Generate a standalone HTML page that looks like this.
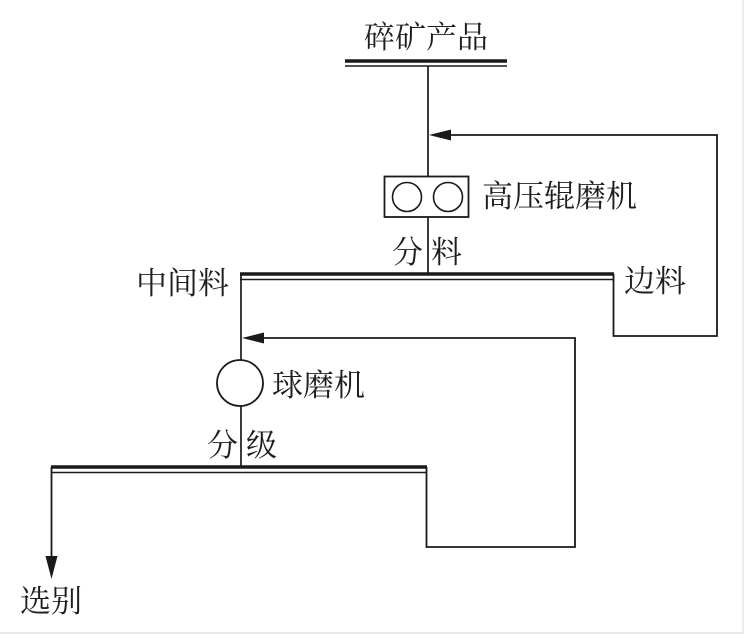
<!DOCTYPE html>
<html><head><meta charset="utf-8"><style>
html,body{margin:0;padding:0;background:#fff;}
svg{display:block;}
text{font-family:"Liberation Serif","Noto Serif CJK SC",serif;font-size:31px;fill:#1e1e1e;}
</style></head><body>
<svg width="744" height="634" viewBox="0 0 744 634" xmlns="http://www.w3.org/2000/svg">
<rect x="0" y="0" width="744" height="634" fill="#fff"/>
<line x1="0" y1="633" x2="744" y2="633" stroke="#e8e8e8" stroke-width="2"/>
<line x1="743" y1="0" x2="743" y2="634" stroke="#e8e8e8" stroke-width="1.5"/>
<g stroke="#1a1a1a" fill="none">
<!-- top double bar -->
<line x1="345" y1="61" x2="507" y2="61" stroke-width="3.5"/>
<line x1="345" y1="66" x2="507" y2="66" stroke-width="1.6"/>
<!-- vertical to HPGR -->
<line x1="428" y1="66" x2="428" y2="176" stroke-width="1.7"/>
<!-- HPGR box -->
<rect x="384.5" y="176.5" width="84" height="40.5" stroke-width="1.8"/>
<circle cx="407" cy="197" r="14.5" stroke-width="1.6"/>
<circle cx="448" cy="197" r="14.5" stroke-width="1.6"/>
<line x1="428" y1="217" x2="428" y2="274" stroke-width="1.7"/>
<!-- mid double bar -->
<line x1="240" y1="274" x2="614" y2="274" stroke-width="3.5"/>
<line x1="240" y1="279.5" x2="614" y2="279.5" stroke-width="1.6"/>
<!-- edge material loop -->
<polyline points="613.5,274 613.5,336 717,336 717,135 448,135" stroke-width="1.8"/>
<!-- middle to ball mill -->
<line x1="241" y1="274" x2="241" y2="360" stroke-width="1.7"/>
<circle cx="240" cy="383" r="23" stroke-width="1.8"/>
<line x1="241" y1="406" x2="241" y2="467" stroke-width="1.7"/>
<!-- bottom double bar -->
<line x1="51" y1="467" x2="427" y2="467" stroke-width="3.5"/>
<line x1="51" y1="472.5" x2="427" y2="472.5" stroke-width="1.6"/>
<!-- classification loop -->
<polyline points="426.5,467 426.5,547 575,547 575,338 260,338" stroke-width="1.8"/>
<!-- to selection -->
<line x1="51.5" y1="467" x2="51.5" y2="560" stroke-width="1.8"/>
</g>
<g fill="#1a1a1a">
<polygon points="429,135 451,129.5 451,140.5"/>
<polygon points="242,338 264,332.5 264,343.5"/>
<polygon points="51.5,579 45.5,556 57.5,556"/>
</g>
<text x="364" y="48">碎矿产品</text>
<text x="482" y="207">高压辊磨机</text>
<text x="392" y="263">分</text>
<text x="431" y="263">料</text>
<text x="136" y="294">中间料</text>
<text x="624" y="292">边料</text>
<text x="272" y="396">球磨机</text>
<text x="207" y="456">分</text>
<text x="246" y="456">级</text>
<text x="20" y="612">选别</text>
</svg>
</body></html>
